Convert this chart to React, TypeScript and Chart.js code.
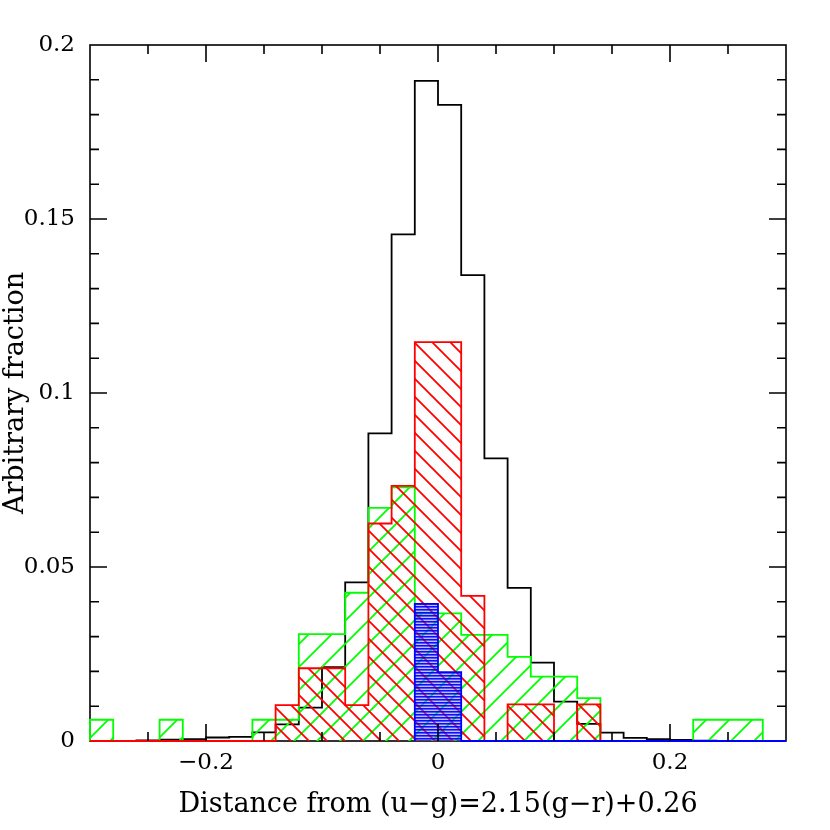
import React, { useEffect, useRef } from 'react';
import { Chart, registerables } from 'chart.js';

Chart.register(...registerables);

// Bin edges (width 0.02), shared by all histograms
const BIN_EDGES = [
  -0.30, -0.28, -0.26, -0.24, -0.22, -0.20, -0.18, -0.16, -0.14, -0.12, -0.10,
  -0.08, -0.06, -0.04, -0.02, 0.00, 0.02, 0.04, 0.06, 0.08, 0.10, 0.12,
  0.14, 0.16, 0.18, 0.20, 0.22, 0.24, 0.26, 0.28, 0.30, 0.32,
];

// Black outline histogram (full sample)
const ALL = [
  0, 0, 0.0002, 0.0004, 0.0005, 0.001, 0.0012, 0.0025, 0.0048, 0.0096, 0.0212,
  0.0456, 0.0884, 0.1456, 0.1897, 0.1828, 0.1339, 0.0812, 0.044, 0.0225, 0.0113,
  0.0049, 0.0024, 0.0009, 0.0005, 0.0003, 0.0001, 0, 0, 0, 0,
];

// Green hatched histogram
const GREEN = [
  0.0061, 0, 0, 0.0061, 0, 0, 0, 0.0061, 0.0061, 0.0307, 0.0307,
  0.0426, 0.067, 0.0729, 0.0367, 0.0367, 0.0305, 0.0305, 0.0242, 0.0185, 0.0185,
  0.0123, 0, 0, 0, 0, 0.0061, 0.0061, 0.0061, 0, 0.0061,
];

// Red hatched histogram
const RED = [
  0, 0, 0, 0, 0, 0, 0, 0, 0.0103, 0.0209, 0.0209,
  0.0103, 0.0625, 0.0733, 0.1146, 0.1146, 0.0417, 0, 0.0105, 0.0105, 0,
  0.0105, 0, 0, 0, 0, 0, 0, 0, 0, 0,
];

// Blue hatched histogram
const BLUE: (number | null)[] = [
  null, null, null, null, null, null, null, null, null, null, null,
  null, null, null, 0.0394, 0.0198, 0, 0, 0, 0, 0,
  0, 0, 0, 0, 0, 0, 0, 0, 0, 0,
];

const X_TICK_LABELS = [-0.2, 0, 0.2];
const Y_TICK_LABELS = [0, 0.05, 0.1, 0.15, 0.2];
const X_MAJOR_TICKS = [-0.2, 0, 0.2];
const X_MINOR_TICKS = [-0.25, -0.15, -0.1, -0.05, 0.05, 0.1, 0.15, 0.25];
const Y_MAJOR_TICKS = [0.05, 0.1, 0.15];
const Y_MINOR_TICKS = [
  0.01, 0.02, 0.03, 0.04, 0.06, 0.07, 0.08, 0.09, 0.11, 0.12, 0.13, 0.14,
  0.16, 0.17, 0.18, 0.19,
];

const FONT = 'DejaVu Serif';

// Each bin [edge_i, edge_i+1] drawn at its value: stepped 'after' with the
// point placed at the bin's right edge.
function histPoints(values: (number | null)[]) {
  const pts: { x: number; y: number }[] = [];
  let started = false;
  for (let i = 0; i < values.length; i++) {
    const v = values[i];
    if (v === null) continue;
    if (!started) {
      pts.push({ x: BIN_EDGES[i], y: 0 });
      started = true;
    }
    pts.push({ x: BIN_EDGES[i + 1], y: v });
  }
  pts.push({ x: BIN_EDGES[values.length], y: 0 });
  return pts;
}

function diagPattern(color: string, period: number, up: boolean) {
  const c = document.createElement('canvas');
  c.width = period;
  c.height = period;
  const ctx = c.getContext('2d')!;
  ctx.strokeStyle = color;
  ctx.lineWidth = 1.8;
  ctx.beginPath();
  const p = period;
  if (up) {
    ctx.moveTo(-2, p + 2); ctx.lineTo(p + 2, -2);
    ctx.moveTo(-2, 2); ctx.lineTo(2, -2);
    ctx.moveTo(p - 2, p + 2); ctx.lineTo(p + 2, p - 2);
  } else {
    ctx.moveTo(-2, -2); ctx.lineTo(p + 2, p + 2);
    ctx.moveTo(-2, p - 2); ctx.lineTo(2, p + 2);
    ctx.moveTo(p - 2, -2); ctx.lineTo(p + 2, 2);
  }
  ctx.stroke();
  return ctx.createPattern(c, 'repeat')!;
}

function horizPattern() {
  const c = document.createElement('canvas');
  c.width = 4;
  c.height = 3;
  const ctx = c.getContext('2d')!;
  ctx.fillStyle = 'rgba(0,0,255,0.95)';
  ctx.fillRect(0, 0, 4, 1);
  ctx.fillStyle = 'rgba(20,20,255,0.7)';
  ctx.fillRect(0, 1, 4, 1);
  ctx.fillStyle = 'rgba(90,90,255,0.4)';
  ctx.fillRect(0, 2, 4, 1);
  return ctx.createPattern(c, 'repeat')!;
}

function fmt(v: number) {
  if (Math.abs(v) < 1e-9) return '0';
  const s = String(Math.abs(Math.round(v * 1000) / 1000));
  return v < 0 ? '\u2212' + s : s;
}

const framePlugin = {
  id: 'frameTicks',
  beforeDatasetsDraw(chart: any) {
    const { ctx, chartArea: a } = chart;
    ctx.save();
    ctx.strokeStyle = '#000';
    ctx.lineWidth = 1.6;
    ctx.strokeRect(a.left, a.top, a.right - a.left, a.bottom - a.top);
    ctx.restore();
  },
  afterDatasetsDraw(chart: any) {
    const { ctx, chartArea: a, scales } = chart;
    const xs = scales.x;
    const ys = scales.y;
    ctx.save();
    ctx.strokeStyle = '#000';
    ctx.lineWidth = 1.6;
    ctx.beginPath();
    const xt = (vals: number[], len: number) => {
      for (const v of vals) {
        const px = xs.getPixelForValue(v);
        ctx.moveTo(px, a.bottom); ctx.lineTo(px, a.bottom - len);
        ctx.moveTo(px, a.top); ctx.lineTo(px, a.top + len);
      }
    };
    const yt = (vals: number[], len: number) => {
      for (const v of vals) {
        const py = ys.getPixelForValue(v);
        ctx.moveTo(a.left, py); ctx.lineTo(a.left + len, py);
        ctx.moveTo(a.right, py); ctx.lineTo(a.right - len, py);
      }
    };
    xt(X_MAJOR_TICKS, 17);
    xt(X_MINOR_TICKS, 9);
    yt(Y_MAJOR_TICKS, 17);
    yt(Y_MINOR_TICKS, 9);
    ctx.stroke();
    ctx.restore();
  },
};

export default function App() {
  const ref = useRef<HTMLCanvasElement | null>(null);

  useEffect(() => {
    if (!ref.current) return;
    const common = {
      stepped: 'after' as const,
      pointRadius: 0,
      borderWidth: 1.8,
      borderJoinStyle: 'miter' as const,
      borderCapStyle: 'butt' as const,
      clip: { left: 1, right: 2, top: 1, bottom: 1 },
    };
    const chart = new Chart(ref.current, {
      type: 'line',
      data: {
        datasets: [
          {
            ...common,
            label: 'blue',
            data: histPoints(BLUE),
            borderColor: '#0000ff',
            backgroundColor: horizPattern(),
            fill: 'origin',
          },
          {
            ...common,
            label: 'red',
            data: histPoints(RED),
            borderColor: '#ff0000',
            backgroundColor: diagPattern('#ff0000', 18, false),
            fill: 'origin',
          },
          {
            ...common,
            label: 'green',
            data: histPoints(GREEN),
            borderColor: '#00ff00',
            backgroundColor: diagPattern('#00ff00', 23, true),
            fill: 'origin',
          },
          {
            ...common,
            label: 'all',
            data: histPoints(ALL),
            borderColor: '#000000',
            fill: false,
          },
        ],
      },
      options: {
        responsive: false,
        animation: false,
        layout: { padding: { left: 0, right: 44, top: 45, bottom: 0 } },
        plugins: { legend: { display: false }, tooltip: { enabled: false } },
        scales: {
          x: {
            type: 'linear',
            min: -0.3,
            max: 0.3,
            grid: { display: false, drawTicks: false },
            border: { display: false },
            afterBuildTicks: (s: any) => {
              s.ticks = X_TICK_LABELS.map((v) => ({ value: v }));
            },
            afterFit: (s: any) => {
              s.height = 89;
            },
            ticks: {
              color: '#000',
              font: { family: FONT, size: 23 },
              padding: 8,
              maxRotation: 0,
              autoSkip: false,
              callback: (v: any) => fmt(Number(v)),
            },
            title: {
              display: true,
              text: 'Distance from (u\u2212g)=2.15(g\u2212r)+0.26',
              color: '#000',
              font: { family: FONT, size: 27 },
              padding: { top: 0, bottom: 9 },
            },
          },
          y: {
            type: 'linear',
            min: 0,
            max: 0.2,
            grid: { display: false, drawTicks: false },
            border: { display: false },
            afterBuildTicks: (s: any) => {
              s.ticks = Y_TICK_LABELS.map((v) => ({ value: v }));
            },
            afterFit: (s: any) => {
              s.width = 90;
            },
            ticks: {
              color: '#000',
              font: { family: FONT, size: 23 },
              padding: 15,
              autoSkip: false,
              callback: (v: any) => fmt(Number(v)),
            },
            title: {
              display: true,
              text: 'Arbitrary fraction',
              color: '#000',
              font: { family: FONT, size: 27 },
              padding: { top: 0, bottom: 0 },
            },
          },
        },
      },
      plugins: [framePlugin],
    } as any);
    return () => chart.destroy();
  }, []);

  return (
    <div style={{ position: 'absolute', left: 0, top: 0, width: 830, height: 830, background: '#fff' }}>
      <canvas ref={ref} width={830} height={830} style={{ display: 'block' }} />
    </div>
  );
}
